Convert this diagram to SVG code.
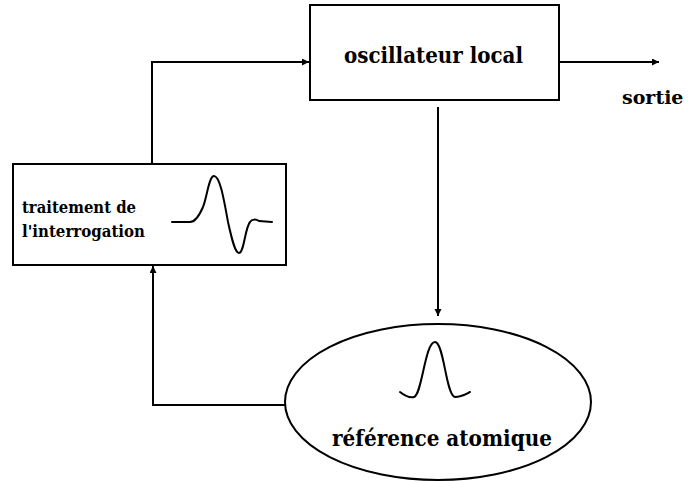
<svg xmlns="http://www.w3.org/2000/svg" width="688" height="481" viewBox="0 0 688 481">
<style>
.box{fill:#fff;stroke:#000;stroke-width:2}
.line{fill:none;stroke:#000;stroke-width:2}
.wave{fill:none;stroke:#000;stroke-width:2;stroke-linecap:round;stroke-linejoin:round}
.t{font-family:'DejaVu Serif','Liberation Serif',serif;font-weight:bold;fill:#000}
</style>
<defs>
<marker id="ah" markerUnits="userSpaceOnUse" markerWidth="8" markerHeight="8" refX="7" refY="3.5" orient="auto">
<path d="M0,0 L7,3.5 L0,7 z" fill="#000"/>
</marker>
</defs>
<rect width="688" height="481" fill="#fff"/>
<g id="connectors">
<path class="line" d="M152,163 V62 H309" marker-end="url(#ah)"/>
<path class="line" d="M559,62 H659" marker-end="url(#ah)"/>
<path class="line" d="M438,107 V316" marker-end="url(#ah)"/>
<path class="line" d="M285,405 H153 V266" marker-end="url(#ah)"/>
</g>
<g id="oscillateur">
<rect class="box" x="310" y="5" width="249" height="95"/>
<text class="t" x="344" y="63" font-size="21.5" textLength="179" lengthAdjust="spacingAndGlyphs">oscillateur local</text>
</g>
<g id="sortie">
<text class="t" x="622" y="104" font-size="19">sortie</text>
</g>
<g id="traitement">
<rect class="box" x="13" y="164" width="273" height="101"/>
<text class="t" x="22" y="213" font-size="16.5" textLength="114" lengthAdjust="spacingAndGlyphs">traitement de</text>
<text class="t" x="22" y="237" font-size="16.5" textLength="123" lengthAdjust="spacingAndGlyphs">l'interrogation</text>
<path class="wave" d="M172,222 L190,222 C196,222 200,214 203,207 C207,197 209,176 214,176 C220,176 224,200 228,222 C232,240 235,253 239,253 C244,253 245,228 250,222 C252,219 256,219 259,221 L272,222"/>
</g>
<g id="reference">
<ellipse cx="438" cy="402" rx="153" ry="78" fill="#fff" stroke="#000" stroke-width="2"/>
<path class="wave" d="M400,392 C405,396 410,398 414,397 C422,395 425,342 435,342 C444,342 446,396 455,397 C461,397 466,394 470,392"/>
<text class="t" x="332" y="446" font-size="21.5" textLength="220" lengthAdjust="spacingAndGlyphs">référence atomique</text>
</g>
</svg>
